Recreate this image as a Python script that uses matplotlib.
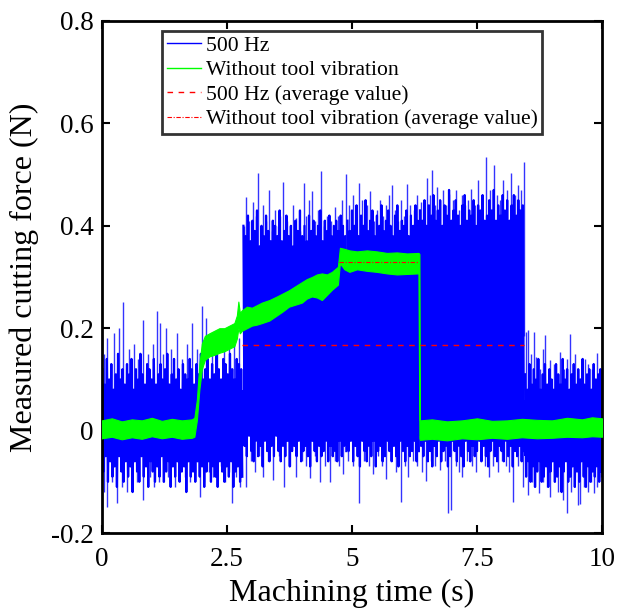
import matplotlib
matplotlib.use("Agg")
import matplotlib.pyplot as plt
import numpy as np

plt.rcParams['font.family'] = ['Liberation Serif', 'DejaVu Serif']

# 500 Hz signal: solid core band for each cutting stage
blue_seg_start = [0.0, 2.82, 4.9, 6.35, 8.45]
blue_seg_end = [2.82, 4.9, 6.35, 8.45, 10.0]
blue_core_hi = [0.08, 0.34, 0.36, 0.38, 0.06]
blue_core_lo = [-0.05, -0.01, -0.01, -0.01, -0.05]

# 500 Hz signal: sampled local maxima / minima within each stage (N)
blue_max_0 = [0.12, 0.09, 0.14, 0.10, 0.13, 0.08, 0.11, 0.15, 0.10, 0.12,
              0.09, 0.13, 0.11, 0.14, 0.08, 0.12, 0.10, 0.15, 0.11, 0.09,
              0.13, 0.12, 0.10, 0.14, 0.09, 0.11, 0.13, 0.10, 0.12, 0.15,
              0.09, 0.11, 0.14, 0.10, 0.12, 0.08, 0.13, 0.11, 0.10, 0.14,
              0.12, 0.09, 0.13, 0.11, 0.15, 0.10, 0.12, 0.14, 0.10, 0.13,
              0.11, 0.16, 0.12, 0.10, 0.14, 0.13, 0.11, 0.15, 0.12, 0.10,
              0.14, 0.13, 0.12]
blue_min_0 = [-0.08, -0.05, -0.10, -0.06, -0.09, -0.07, -0.11, -0.05, -0.08, -0.10,
              -0.06, -0.09, -0.07, -0.12, -0.06, -0.08, -0.10, -0.05, -0.09, -0.07,
              -0.11, -0.06, -0.08, -0.10, -0.07, -0.09, -0.05, -0.10, -0.08, -0.06,
              -0.11, -0.07, -0.09, -0.06, -0.10, -0.08, -0.07, -0.12, -0.06, -0.09,
              -0.08, -0.10, -0.06, -0.09, -0.07, -0.11, -0.08, -0.06, -0.10, -0.07,
              -0.09, -0.11, -0.06, -0.08, -0.10, -0.07, -0.09, -0.06, -0.11, -0.08,
              -0.07, -0.10, -0.09]
blue_max_1 = [0.40, 0.38, 0.42, 0.37, 0.41, 0.39, 0.43, 0.36, 0.40, 0.38,
              0.42, 0.39, 0.37, 0.41, 0.40, 0.38, 0.43, 0.37, 0.39, 0.42,
              0.38, 0.40, 0.36, 0.41, 0.39, 0.43, 0.38, 0.40, 0.37, 0.42,
              0.39, 0.41, 0.38, 0.40, 0.43, 0.37, 0.41, 0.39, 0.42, 0.38,
              0.40, 0.41, 0.39, 0.42, 0.40, 0.38]
blue_min_1 = [-0.03, -0.05, -0.01, -0.04, -0.06, -0.02, -0.05, -0.03, -0.07, -0.02,
              -0.04, -0.06, -0.03, -0.05, -0.01, -0.04, -0.06, -0.03, -0.05, -0.02,
              -0.07, -0.04, -0.03, -0.05, -0.02, -0.06, -0.04, -0.03, -0.05, -0.07,
              -0.02, -0.04, -0.06, -0.03, -0.05, -0.04, -0.02, -0.06, -0.03, -0.05,
              -0.04, -0.06, -0.02, -0.05, -0.03, -0.04]
blue_max_2 = [0.41, 0.39, 0.43, 0.40, 0.44, 0.38, 0.42, 0.40, 0.45, 0.39,
              0.41, 0.43, 0.38, 0.42, 0.40, 0.44, 0.39, 0.41, 0.43, 0.40,
              0.38, 0.42, 0.44, 0.39, 0.41, 0.40, 0.43, 0.38, 0.42, 0.40,
              0.44, 0.41]
blue_min_2 = [-0.04, -0.02, -0.06, -0.03, -0.05, -0.07, -0.02, -0.04, -0.06, -0.03,
              -0.05, -0.02, -0.07, -0.04, -0.03, -0.06, -0.05, -0.02, -0.04, -0.06,
              -0.03, -0.05, -0.07, -0.02, -0.04, -0.06, -0.03, -0.05, -0.04, -0.02,
              -0.06, -0.04]
blue_max_3 = [0.43, 0.41, 0.45, 0.40, 0.44, 0.42, 0.46, 0.41, 0.43, 0.45,
              0.40, 0.44, 0.42, 0.47, 0.41, 0.43, 0.45, 0.42, 0.40, 0.44,
              0.46, 0.41, 0.43, 0.42, 0.45, 0.40, 0.44, 0.43, 0.46, 0.41,
              0.42, 0.45, 0.43, 0.47, 0.41, 0.44, 0.42, 0.46, 0.43, 0.45,
              0.41, 0.44, 0.46, 0.42, 0.45, 0.43, 0.44]
blue_min_3 = [-0.03, -0.05, -0.02, -0.06, -0.04, -0.07, -0.03, -0.05, -0.02, -0.06,
              -0.04, -0.03, -0.07, -0.05, -0.02, -0.04, -0.06, -0.03, -0.05, -0.07,
              -0.02, -0.04, -0.06, -0.03, -0.05, -0.04, -0.02, -0.06, -0.03, -0.05,
              -0.07, -0.04, -0.02, -0.05, -0.06, -0.03, -0.04, -0.06, -0.02, -0.05,
              -0.03, -0.07, -0.04, -0.05, -0.03, -0.06, -0.04]
blue_max_4 = [0.11, 0.08, 0.13, 0.09, 0.12, 0.10, 0.14, 0.08, 0.11, 0.13,
              0.09, 0.12, 0.10, 0.08, 0.13, 0.11, 0.09, 0.14, 0.10, 0.12,
              0.08, 0.11, 0.13, 0.09, 0.12, 0.10, 0.14, 0.09, 0.11, 0.12,
              0.08, 0.13, 0.10, 0.11, 0.12]
blue_min_4 = [-0.09, -0.06, -0.10, -0.07, -0.11, -0.08, -0.06, -0.10, -0.09, -0.07,
              -0.11, -0.08, -0.06, -0.10, -0.09, -0.07, -0.12, -0.08, -0.06, -0.10,
              -0.09, -0.07, -0.11, -0.08, -0.10, -0.06, -0.09, -0.11, -0.07, -0.10,
              -0.08, -0.09, -0.07, -0.10, -0.08]

# 500 Hz signal: isolated large peaks (time s, force N)
peak_up_t = [0.05, 0.11, 0.24, 0.35, 0.43, 0.55, 0.64, 0.72, 0.83, 0.92, 1.02, 1.11,
             1.16, 1.22, 1.29, 1.38, 1.5, 1.6, 1.7, 1.81, 1.9, 2.01, 2.08, 2.2, 2.3,
             2.45, 2.55, 2.65, 2.75,
             2.85, 2.89, 2.95, 3.02, 3.08, 3.13, 3.18, 3.23, 3.29, 3.34, 3.4, 3.46, 3.52,
             3.57, 3.63, 3.7, 3.77, 3.83, 3.89, 3.96, 4.04, 4.09, 4.14, 4.21, 4.27, 4.33,
             4.38, 4.45, 4.51, 4.58, 4.66, 4.73, 4.8, 4.89, 4.95, 5.02, 5.08, 5.14, 5.2,
             5.26, 5.31, 5.37, 5.44, 5.5, 5.56, 5.62, 5.68, 5.74, 5.81, 5.87, 5.93, 5.99,
             6.05, 6.11, 6.17, 6.24, 6.3, 6.38, 6.44, 6.51, 6.56, 6.61, 6.66, 6.7, 6.76,
             6.82, 6.88, 6.95, 7.02, 7.09, 7.15, 7.21, 7.27, 7.33, 7.39, 7.46, 7.53, 7.6,
             7.69, 7.76, 7.84, 7.9, 7.97, 8.03, 8.1, 8.19, 8.26, 8.32, 8.38, 8.44,
             8.49, 8.52, 8.58, 8.64, 8.69, 8.76, 8.82, 8.87, 8.96, 9.04, 9.1, 9.16, 9.24,
             9.3, 9.36, 9.42, 9.46, 9.52, 9.6, 9.66, 9.72, 9.8, 9.89, 9.95]
peak_up_v = [0.15, 0.18, 0.19, 0.2, 0.252, 0.16, 0.17, 0.14, 0.216, 0.15, 0.17, 0.234,
             0.21, 0.15, 0.2, 0.16, 0.19, 0.14, 0.17, 0.21, 0.16, 0.243, 0.22, 0.17, 0.19,
             0.16, 0.2, 0.17, 0.18,
             0.4, 0.457, 0.41, 0.447, 0.42, 0.503, 0.4, 0.44, 0.41, 0.47, 0.39, 0.43, 0.4,
             0.42, 0.486, 0.41, 0.4, 0.44, 0.415, 0.39, 0.484, 0.42, 0.45, 0.467, 0.41, 0.43,
             0.507, 0.4, 0.42, 0.41, 0.437, 0.42, 0.45, 0.502, 0.44, 0.46, 0.43, 0.484, 0.45,
             0.42, 0.44, 0.467, 0.41, 0.43, 0.45, 0.42, 0.44, 0.46, 0.48, 0.43, 0.41, 0.45,
             0.42, 0.481, 0.44, 0.43, 0.46, 0.447, 0.45, 0.494, 0.46, 0.509, 0.44, 0.476, 0.45,
             0.47, 0.44, 0.463, 0.45, 0.47, 0.43, 0.46, 0.44, 0.45, 0.471, 0.44, 0.489, 0.45,
             0.534, 0.47, 0.519, 0.46, 0.45, 0.49, 0.47, 0.503, 0.46, 0.48, 0.47, 0.525,
             0.193, 0.196, 0.15, 0.193, 0.144, 0.12, 0.16, 0.187, 0.137, 0.13, 0.11, 0.154, 0.12,
             0.14, 0.189, 0.13, 0.15, 0.12, 0.11, 0.14, 0.13, 0.12, 0.151, 0.12]
peak_dn_t = [0.04, 0.11, 0.2, 0.3, 0.4, 0.5, 0.6, 0.7, 0.83, 0.96, 1.05, 1.14, 1.23,
             1.33, 1.46, 1.56, 1.66, 1.76, 1.86, 1.96, 2.05, 2.14, 2.22, 2.29, 2.38, 2.47,
             2.54, 2.61, 2.69, 2.76,
             2.89, 2.98, 3.06, 3.15, 3.23, 3.33, 3.43, 3.54, 3.65, 3.77, 3.89, 4.0, 4.08,
             4.16, 4.26, 4.36, 4.46, 4.56, 4.66, 4.75, 4.83, 4.92, 5.02, 5.15, 5.25, 5.34,
             5.43, 5.52, 5.61, 5.69, 5.79, 5.89, 5.99, 6.06, 6.13, 6.22, 6.3, 6.4, 6.48,
             6.58, 6.67, 6.76, 6.86, 6.93, 6.99, 7.08, 7.14, 7.21, 7.3, 7.4, 7.49, 7.58,
             7.66, 7.74, 7.83, 7.92, 8.0, 8.08, 8.15, 8.23, 8.32, 8.43,
             8.53, 8.6, 8.67, 8.74, 8.82, 8.9, 8.97, 9.05, 9.12, 9.2, 9.23, 9.3, 9.38,
             9.45, 9.53, 9.56, 9.64, 9.72, 9.78, 9.83, 9.9, 9.97]
peak_dn_v = [-0.12, -0.149, -0.1, -0.142, -0.11, -0.12, -0.09, -0.1, -0.135, -0.09, -0.11,
             -0.1, -0.1, -0.09, -0.11, -0.08, -0.09, -0.1, -0.08, -0.129, -0.1, -0.08,
             -0.09, -0.09, -0.07, -0.1, -0.08, -0.142, -0.09, -0.11,
             -0.11, -0.06, -0.08, -0.05, -0.09, -0.06, -0.096, -0.05, -0.11, -0.07, -0.09,
             -0.06, -0.07, -0.093, -0.05, -0.1, -0.07, -0.1, -0.06, -0.07, -0.085, -0.06,
             -0.07, -0.142, -0.06, -0.07, -0.085, -0.05, -0.07, -0.095, -0.06, -0.08,
             -0.139, -0.07, -0.09, -0.06, -0.07, -0.08, -0.099, -0.06, -0.07, -0.076,
             -0.06, -0.16, -0.155, -0.07, -0.08, -0.09, -0.06, -0.07, -0.08, -0.06, -0.07,
             -0.09, -0.07, -0.08, -0.06, -0.07, -0.08, -0.139, -0.07, -0.11,
             -0.126, -0.1, -0.11, -0.122, -0.1, -0.11, -0.129, -0.1, -0.12, -0.11, -0.135,
             -0.16, -0.12, -0.11, -0.145, -0.143, -0.11, -0.12, -0.1, -0.122, -0.11, -0.09]

# Signal without tool vibration: upper / lower edge of the trace
green_t = [0.0, 0.2, 0.4, 0.6, 0.8, 1.0, 1.2, 1.4, 1.6, 1.8,
           1.85, 1.9, 1.95, 2.0, 2.06, 2.15, 2.25, 2.35, 2.45, 2.55,
           2.65, 2.7, 2.73, 2.76, 2.8, 2.9, 3.0, 3.1, 3.2, 3.35,
           3.5, 3.62, 3.74, 3.87, 4.0, 4.1, 4.2, 4.3, 4.4, 4.5,
           4.6, 4.72, 4.76, 4.85, 4.95, 5.1, 5.3, 5.5, 5.7, 5.9,
           6.1, 6.33, 6.35, 6.36, 6.6, 6.9, 7.2, 7.5, 7.8, 8.1,
           8.4, 8.7, 9.0, 9.3, 9.6, 9.8, 10.0]
green_hi = [0.02, 0.024, 0.018, 0.022, 0.02, 0.025, 0.019, 0.023, 0.02, 0.022,
            0.025, 0.06, 0.13, 0.17, 0.185, 0.19, 0.195, 0.2, 0.2, 0.205,
            0.21, 0.225, 0.252, 0.23, 0.235, 0.242, 0.24, 0.245, 0.25, 0.255,
            0.262, 0.268, 0.274, 0.282, 0.29, 0.296, 0.3, 0.305, 0.307, 0.305,
            0.31, 0.32, 0.357, 0.355, 0.352, 0.35, 0.352, 0.35, 0.347, 0.348,
            0.346, 0.347, 0.345, 0.02, 0.022, 0.018, 0.02, 0.024, 0.019, 0.02,
            0.023, 0.021, 0.02, 0.025, 0.022, 0.026, 0.024]
green_lo = [-0.015, -0.012, -0.017, -0.013, -0.016, -0.011, -0.015, -0.012, -0.016, -0.014,
            -0.012, 0.02, 0.08, 0.12, 0.138, 0.145, 0.148, 0.152, 0.155, 0.16,
            0.165, 0.18, 0.2, 0.19, 0.195, 0.2, 0.205, 0.207, 0.21, 0.215,
            0.225, 0.233, 0.242, 0.246, 0.25, 0.258, 0.262, 0.26, 0.255, 0.265,
            0.275, 0.285, 0.327, 0.315, 0.31, 0.315, 0.312, 0.31, 0.307, 0.305,
            0.306, 0.307, -0.015, -0.018, -0.016, -0.019, -0.015, -0.017, -0.014, -0.016,
            -0.013, -0.015, -0.014, -0.012, -0.013, -0.011, -0.012]

# Average values
avg_500_value = 0.167
avg_500_span = [2.8, 8.45]
avg_novib_value = 0.329
avg_novib_span = [4.74, 6.33]

legend_labels = ['500 Hz', 'Without tool vibration', '500 Hz (average value)',
                 'Without tool vibration (average value)']
x_ticks = [0, 2.5, 5, 7.5, 10]
x_tick_labels = ['0', '2.5', '5', '7.5', '10']
y_ticks = [-0.2, 0, 0.2, 0.4, 0.6, 0.8]
y_tick_labels = ['-0.2', '0', '0.2', '0.4', '0.6', '0.8']

BLUE = '#0000ff'
GREEN = '#00ff00'
RED = '#ff0000'

fig = plt.figure(figsize=(6.17, 6.10), dpi=100)
ax = fig.add_axes([0.165, 0.1262, 0.8107, 0.8394])

# ---- 500 Hz trace ----
blue_max = [blue_max_0, blue_max_1, blue_max_2, blue_max_3, blue_max_4]
blue_min = [blue_min_0, blue_min_1, blue_min_2, blue_min_3, blue_min_4]


def stage_mid(t):
    for s, e, hi, lo in zip(blue_seg_start, blue_seg_end, blue_core_hi, blue_core_lo):
        if s <= t <= e:
            return (hi + lo) / 2
    return 0.0


for s, e, hi, lo, mx, mn in zip(blue_seg_start, blue_seg_end, blue_core_hi,
                                blue_core_lo, blue_max, blue_min):
    ax.fill_between([s, e], [lo, lo], [hi, hi], color=BLUE, lw=0, zorder=2)
    # oscillating trace: alternate between successive maxima and minima
    step = (e - s) / len(mx)
    t_max = s + step * (np.arange(len(mx)) + 0.25)
    t_min = s + step * (np.arange(len(mn)) + 0.75)
    tt = np.empty(2 * len(mx))
    yy = np.empty(2 * len(mx))
    tt[0::2], tt[1::2] = t_max, t_min
    yy[0::2], yy[1::2] = mx, mn
    ax.plot(tt, yy, color=BLUE, lw=1.6, zorder=2)

ax.vlines(peak_up_t, [stage_mid(t) for t in peak_up_t], peak_up_v,
          color=BLUE, lw=1.0, alpha=0.8, zorder=2)
ax.vlines(peak_dn_t, [stage_mid(t) for t in peak_dn_t], peak_dn_v,
          color=BLUE, lw=1.0, alpha=0.8, zorder=2)
line_500, = ax.plot([], [], color=BLUE, lw=1.0)

# ---- trace without tool vibration ----
ax.fill_between(green_t, green_lo, green_hi, color=GREEN, lw=0.8,
                edgecolor=GREEN, zorder=3)
line_novib, = ax.plot([], [], color=GREEN, lw=1.0)

# ---- averages ----
line_avg500, = ax.plot(avg_500_span, [avg_500_value] * 2, color=RED, lw=1.0,
                       dashes=(4, 4), zorder=4)
line_avgnovib, = ax.plot(avg_novib_span, [avg_novib_value] * 2, color=RED, lw=0.8,
                         dashes=(4, 1.5, 1, 1.5), zorder=4)

ax.set_xlim(0, 10)
ax.set_ylim(-0.2, 0.8)
ax.set_xticks(x_ticks)
ax.set_xticklabels(x_tick_labels)
ax.set_yticks(y_ticks)
ax.set_yticklabels(y_tick_labels)
ax.tick_params(direction='in', length=6, width=1.5, labelsize=19.5,
               top=True, right=True)
ax.tick_params(axis='x', pad=10)
ax.tick_params(axis='y', pad=6)
for sp in ax.spines.values():
    sp.set_linewidth(2.0)

ax.set_xlabel('Machining time (s)', fontsize=23, labelpad=5)
ax.set_ylabel('Measured cutting force (N)', fontsize=23, labelpad=8)

leg = ax.legend([line_500, line_novib, line_avg500, line_avgnovib], legend_labels,
                loc='upper left', bbox_to_anchor=(0.121, 0.98), fontsize=15.6,
                frameon=True, fancybox=False, framealpha=1, edgecolor='#333333',
                borderpad=0.2, labelspacing=0.2, handlelength=1.6,
                handletextpad=0.2, borderaxespad=0)
leg.get_frame().set_linewidth(2.0)

fig.savefig('out.png', dpi=100)
